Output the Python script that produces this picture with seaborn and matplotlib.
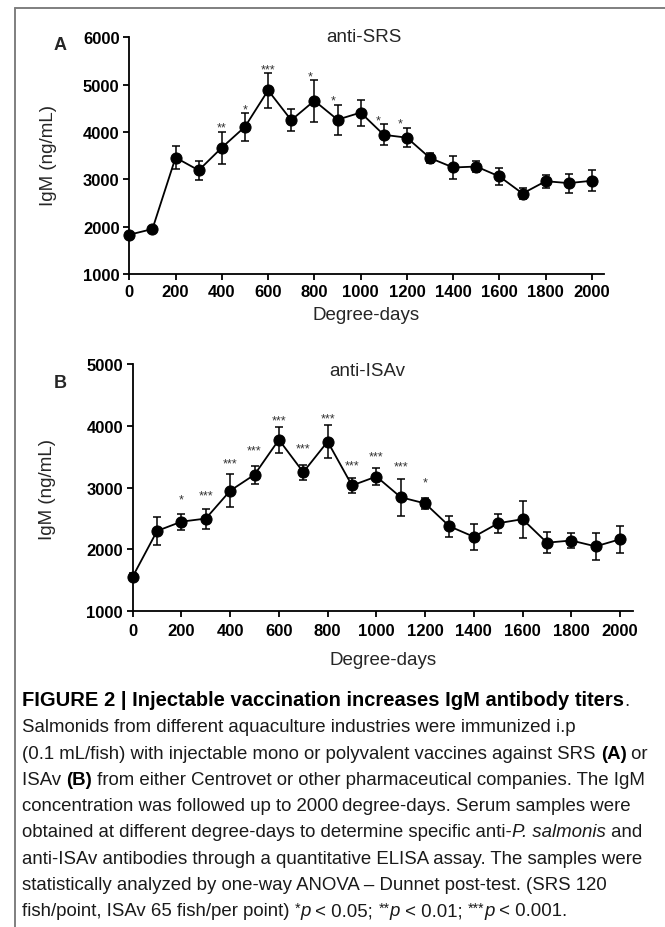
import numpy as np
import pandas as pd
import matplotlib
matplotlib.use("Agg")
import matplotlib.pyplot as plt
from matplotlib import font_manager as fm
from matplotlib.lines import Line2D
import seaborn as sns

# ---------------- data ----------------
degree_days = [0, 100, 200, 300, 400, 500, 600, 700, 800, 900, 1000,
               1100, 1200, 1300, 1400, 1500, 1600, 1700, 1800, 1900, 2000]

srs_mean = [1830, 1950, 3460, 3190, 3670, 4110, 4880, 4250, 4660, 4260, 4410,
            3940, 3880, 3450, 3250, 3270, 3060, 2700, 2960, 2920, 2970]
srs_err = [30, 30, 246, 204, 338, 296, 370, 236, 444, 320, 275,
           219, 200, 113, 247, 120, 176, 116, 141, 200, 218]

isav_mean = [1560, 2300, 2450, 2500, 2950, 3210, 3775, 3250, 3745, 3035, 3180,
             2845, 2745, 2375, 2205, 2425, 2490, 2110, 2145, 2050, 2165]
isav_err = [60, 230, 127, 161, 265, 143, 207, 119, 263, 118, 135,
            297, 83, 170, 207, 156, 301, 170, 117, 216, 215]

srs_star_x = [400, 500, 600, 780, 882, 1077, 1171]
srs_star_y = [4189, 4570, 5400, 5260, 4745, 4331, 4259]
srs_star_txt = ["**", "*", "***", "*", "*", "*", "*"]

isav_star_x = [200, 300, 400, 500, 600, 700, 800, 900, 1000, 1100, 1200]
isav_star_y = [2870, 2935, 3452, 3658, 4154, 3695, 4191, 3426, 3572, 3410, 3151]
isav_star_txt = ["*", "***", "***", "***", "***", "***", "***", "***", "***", "***", "*"]

x_ticks = [0, 200, 400, 600, 800, 1000, 1200, 1400, 1600, 1800, 2000]
srs_y_ticks = [1000, 2000, 3000, 4000, 5000, 6000]
isav_y_ticks = [1000, 2000, 3000, 4000, 5000]

caption_lines = [
    [("FIGURE 2 | Injectable vaccination increases IgM antibody titers", "title"), (".", "r")],
    [("Salmonids from different aquaculture industries were immunized i.p", "r")],
    [("(0.1 mL/fish) with injectable mono or polyvalent vaccines against SRS ", "r"), ("(A)", "b"), (" or", "r")],
    [("ISAv ", "r"), ("(B)", "b"), (" from either Centrovet or other pharmaceutical companies. The IgM", "r")],
    [("concentration was followed up to 2000\u2009degree-days. Serum samples were", "r")],
    [("obtained at different degree-days to determine specific anti-", "r"), ("P. salmonis", "i"), (" and", "r")],
    [("anti-ISAv antibodies through a quantitative ELISA assay. The samples were", "r")],
    [("statistically analyzed by one-way ANOVA \u2013 Dunnet post-test. (SRS 120", "r")],
    [("fish/point, ISAv 65 fish/per point) ", "r"), ("*", "sup"), ("p", "i"), (" < 0.05; ", "r"),
     ("**", "sup"), ("p", "i"), (" < 0.01; ", "r"), ("***", "sup"), ("p", "i"), (" < 0.001.", "r")],
]

# ---------------- style ----------------
sns.set_style("ticks")
names = {f.name for f in fm.fontManager.ttflist}
SANS = "Liberation Sans"
NARROW = "Liberation Sans Narrow" if "Liberation Sans Narrow" in names else SANS
plt.rcParams["font.family"] = [SANS, "DejaVu Sans"]

W, H = 665, 928
fig = plt.figure(figsize=(W / 100, H / 100), dpi=100)


def fx(px):
    return px / W


def fy(py):
    return 1 - py / H


# frame lines (left and top)
fig.add_artist(Line2D([fx(14.7), fx(14.7)], [fy(9), 0], color="#7f7f7f", lw=1.4))
fig.add_artist(Line2D([fx(14.7), 1], [fy(9), fy(9)], color="#7f7f7f", lw=1.4))


def panel(rect, means, errs, yticks, ylim, star_x, star_y, star_txt, xpad):
    ax = fig.add_axes(rect)
    df = pd.DataFrame({"dd": degree_days, "igm": means})
    ax.errorbar(degree_days, means, yerr=errs, fmt="none", ecolor="black",
                elinewidth=1.1, capsize=3, capthick=1.1, clip_on=False, zorder=2)
    sns.lineplot(data=df, x="dd", y="igm", ax=ax, color="black", linewidth=1.3,
                 marker="o", markersize=8, markeredgecolor="black",
                 markerfacecolor="black", clip_on=False, zorder=3)
    for sx, sy, st in zip(star_x, star_y, star_txt):
        ax.annotate(st, (sx, sy), xytext=(0, -5), textcoords="offset points",
                    ha="center", va="baseline", fontsize=9, color="#333333")
    ax.set_xlim(0, 2052)
    ax.set_ylim(*ylim)
    ax.set_xticks(x_ticks)
    ax.set_yticks(yticks)
    ax.set_xticklabels([str(v) for v in x_ticks], fontsize=12, fontweight="bold",
                       family=[NARROW, SANS])
    ax.set_yticklabels([str(v) for v in yticks], fontsize=12, fontweight="bold")
    ax.set_xlabel("")
    ax.set_ylabel("")
    for s in ["top", "right"]:
        ax.spines[s].set_visible(False)
    for s in ["left", "bottom"]:
        ax.spines[s].set_linewidth(1.3)
        ax.spines[s].set_color("black")
    ax.tick_params(axis="both", direction="out", length=4, width=1.3, color="black",
                   labelcolor="black", pad=3)
    ax.tick_params(axis="x", pad=xpad)
    ax.patch.set_alpha(0)
    return ax


# Panel A
axA = panel([fx(129.3), fy(275), fx(604 - 129.3), (275 - 38.3) / H],
            srs_mean, srs_err, srs_y_ticks, (1000, 6000),
            srs_star_x, srs_star_y, srs_star_txt, 3)
# Panel B
axB = panel([fx(132.7), fy(612.3), fx(632.7 - 132.7), (612.3 - 365) / H],
            isav_mean, isav_err, isav_y_ticks, (1000, 5000),
            isav_star_x, isav_star_y, isav_star_txt, 4.5)

# titles, labels
fig.text(fx(364), fy(37), "anti-SRS", fontsize=13.5, ha="center", va="center")
fig.text(fx(367), fy(371.7), "anti-ISAv", fontsize=13.5, ha="center", va="center")
fig.text(fx(60), fy(45), "A", fontsize=13, fontweight="bold", ha="center", va="center")
fig.text(fx(60), fy(383), "B", fontsize=13, fontweight="bold", ha="center", va="center")
fig.text(fx(49), fy(156), "IgM (ng/mL)", fontsize=13.5, rotation=90, ha="center", va="center")
fig.text(fx(48), fy(489), "IgM (ng/mL)", fontsize=13.5, rotation=90, ha="center", va="center")
fig.text(fx(366), fy(320), "Degree-days", fontsize=13.5, ha="center", va="baseline")
fig.text(fx(383), fy(665), "Degree-days", fontsize=13.5, ha="center", va="baseline")

# caption
renderer = fig.canvas.get_renderer()
CAP = 13.4
base0 = 706
step = 26.3
for i, runs in enumerate(caption_lines):
    xpix = 22
    ybase = base0 + i * step
    for txt, style in runs:
        kw = dict(fontsize=CAP, ha="left", va="baseline", color="#1a1a1a")
        yy = ybase
        if style == "title":
            kw.update(fontweight="bold", family=[NARROW, SANS], fontsize=14.5, color="black")
        elif style == "b":
            kw.update(fontweight="bold", color="black")
        elif style == "i":
            kw.update(fontstyle="italic")
        elif style == "sup":
            kw.update(fontsize=CAP * 0.75)
            yy = ybase - 4
        t = fig.text(fx(xpix), fy(yy), txt, **kw)
        bb = t.get_window_extent(renderer=renderer)
        xpix = bb.x1

fig.savefig("out.png", dpi=100)
